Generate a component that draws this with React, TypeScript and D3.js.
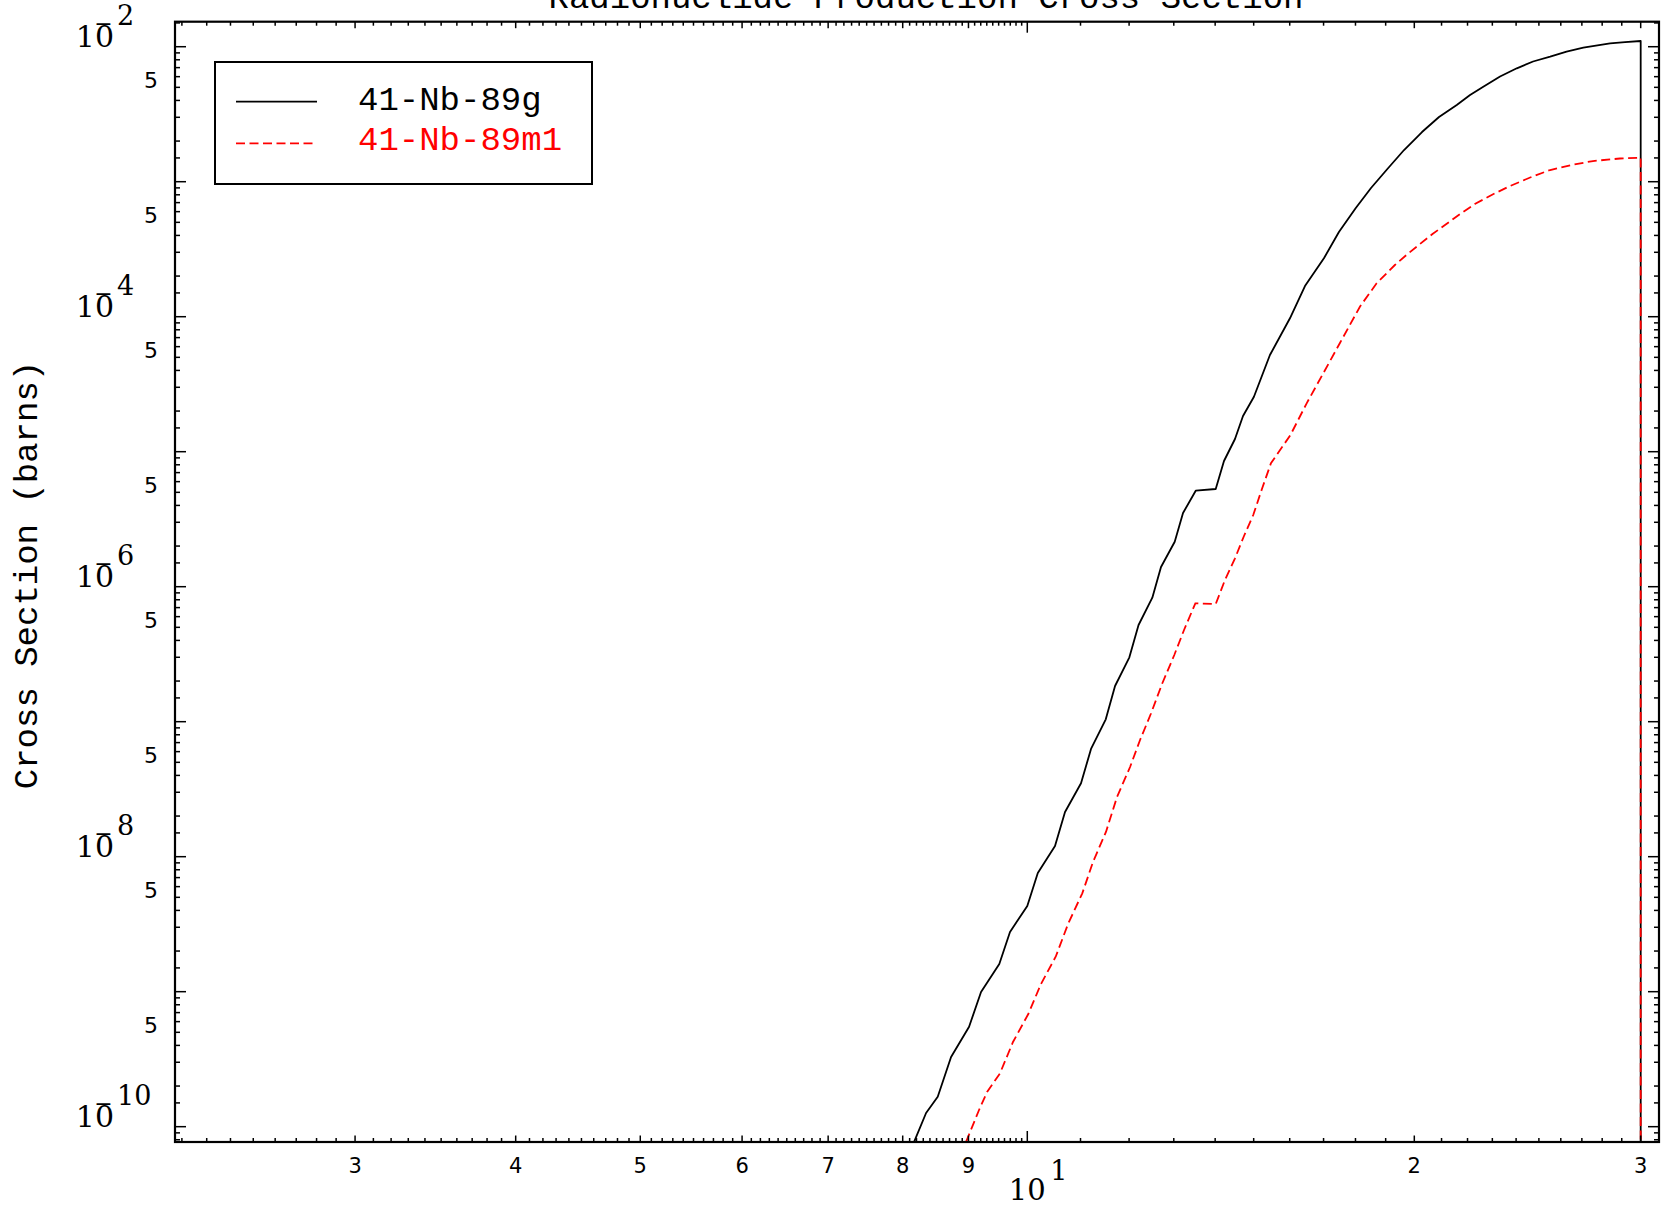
import React from 'react';
import * as d3 from 'd3';

const titleText = 'Radionuclide Production Cross Section';
const yTitle = 'Cross Section (barns)';
const seriesNames = ['41-Nb-89g', '41-Nb-89m1'];
const seriesColors = ['#000000', '#ff0000'];

// incident energy (MeV) and cross section (barns)
const nb89gEnergy = [8.165, 8.342, 8.518, 8.724, 9.01, 9.205, 9.511, 9.695, 10.0, 10.19, 10.509, 10.699, 11.01, 11.209, 11.509, 11.702, 12.006, 12.205, 12.51, 12.706, 13.022, 13.217, 13.521, 14.014, 14.223, 14.506, 14.716, 15.007, 15.443, 16.007, 16.443, 17.011, 17.474, 18.004, 18.508, 19.058, 19.636, 20.278, 20.905, 21.58, 22.1, 22.63, 23.32, 24.03, 24.74, 25.51, 26.27, 27.07, 28.4, 29.17, 30.0, 30.0];
const nb89gXS = [7.71e-11, 1.263e-10, 1.668e-10, 3.283e-10, 5.503e-10, 9.95e-10, 1.604e-9, 2.768e-9, 4.313e-9, 7.57e-9, 1.2e-8, 2.143e-8, 3.498e-8, 6.28e-8, 1.042e-7, 1.838e-7, 2.999e-7, 5.203e-7, 8.29e-7, 1.399e-6, 2.154e-6, 3.514e-6, 5.142e-6, 5.293e-6, 8.53e-6, 1.242e-5, 1.838e-5, 2.555e-5, 5.203e-5, 9.73e-5, 1.688e-4, 2.708e-4, 4.241e-4, 6.353e-4, 8.98e-4, 1.242e-3, 1.717e-3, 2.334e-3, 3.015e-3, 3.7e-3, 4.387e-3, 5.054e-3, 6.016e-3, 6.918e-3, 7.77e-3, 8.43e-3, 9.21e-3, 9.83e-3, 1.06e-2, 1.083e-2, 1.102e-2, 1e-12];

const nb89m1Energy = [8.961, 9.172, 9.305, 9.523, 9.747, 10.018, 10.248, 10.522, 10.757, 11.035, 11.249, 11.515, 11.743, 12.021, 12.238, 12.482, 12.729, 13.012, 13.241, 13.512, 14.014, 14.248, 14.506, 14.742, 14.988, 15.223, 15.471, 16.021, 16.493, 16.99, 17.506, 18.143, 18.694, 19.316, 19.76, 20.205, 20.662, 21.13, 21.71, 22.29, 23.01, 23.74, 24.61, 25.51, 26.5, 27.54, 28.91, 30.0, 30.0];
const nb89m1XS = [7.71e-11, 1.329e-10, 1.807e-10, 2.486e-10, 4.239e-10, 6.835e-10, 1.14e-9, 1.816e-9, 3.172e-9, 5.356e-9, 9.13e-9, 1.532e-8, 2.768e-8, 4.617e-8, 7.32e-8, 1.154e-7, 1.902e-7, 3.119e-7, 4.78e-7, 7.53e-7, 7.44e-7, 1.121e-6, 1.623e-6, 2.375e-6, 3.397e-6, 5.293e-6, 8.21e-6, 1.329e-5, 2.283e-5, 3.807e-5, 6.386e-5, 1.186e-4, 1.767e-4, 2.415e-4, 2.914e-4, 3.456e-4, 4.099e-4, 4.778e-4, 5.763e-4, 6.836e-4, 8.04e-4, 9.29e-4, 1.074e-3, 1.221e-3, 1.329e-3, 1.423e-3, 1.485e-3, 1.506e-3, 1e-12];

const xDomain = [2.173, 31.0];
const yDomain = [7.7e-11, 1.532e-2];

const xDigitTickValues = [3, 4, 5, 6, 7, 8, 9, 20, 30];
const xDigitTickLabels = ['3', '4', '5', '6', '7', '8', '9', '2', '3'];
const xDecadeValue = 10;
const xDecadeLabel = ['10', '1'];
const yDecadeLabelExps = [-2, -4, -6, -8, -10];
const yFiveLabelExps = [-3, -4, -5, -6, -7, -8, -9, -10];
const yMinorMantissas = [1, 1.5, 2, 3, 4, 5, 6, 7, 8, 9];

const W = 1665;
const H = 1207;
const L = 175, R = 1659, T = 21.7, B = 1142;

const MONO = '"Liberation Mono", "DejaVu Sans Mono", monospace';
const SERIF = '"DejaVu Serif", serif';
const SANS = '"DejaVu Sans", sans-serif';

export default function App() {
  const x = d3.scaleLog().domain(xDomain).range([L, R]);
  const y = d3.scaleLog().domain(yDomain).range([B, T]);

  const line = d3
    .line<[number, number]>()
    .x((d) => x(d[0]))
    .y((d) => y(d[1]));

  const gData: [number, number][] = nb89gEnergy.map((e, i) => [e, nb89gXS[i]]);
  const mData: [number, number][] = nb89m1Energy.map((e, i) => [e, nb89m1XS[i]]);

  // x ticks
  const xTicks: { v: number; len: number }[] = [];
  for (let i = 22; i < 100; i++) {
    const v = i / 10;
    const isDigit = i % 10 === 0;
    xTicks.push({ v, len: isDigit ? 6.5 : 4 });
  }
  for (let i = 10; i <= 30; i++) {
    xTicks.push({ v: i, len: i === 10 ? 11 : i === 20 || i === 30 ? 6.5 : 4 });
  }

  // y ticks
  const yTicks: { v: number; len: number }[] = [];
  for (let e = -11; e <= -2; e++) {
    for (const m of yMinorMantissas) {
      const v = m * Math.pow(10, e);
      if (v >= yDomain[0] && v <= yDomain[1]) yTicks.push({ v, len: m === 1 ? 11 : 5 });
    }
  }

  return (
    <svg
      width={W}
      height={H}
      style={{ position: 'absolute', left: 0, top: 0, background: '#fff' }}
      xmlns="http://www.w3.org/2000/svg"
    >
      <defs>
        <clipPath id="plotclip">
          <rect x={L} y={T} width={R - L} height={B - T} />
        </clipPath>
      </defs>
      <rect x={0} y={0} width={W} height={H} fill="#fff" />

      {/* title */}
      <text x={926} y={8} fontFamily={MONO} fontSize={34} textAnchor="middle" fill="#000">
        {titleText}
      </text>

      {/* curves */}
      <g clipPath="url(#plotclip)">
        <path d={line(gData) || ''} fill="none" stroke={seriesColors[0]} strokeWidth={1.8} strokeLinejoin="round" />
        <path
          d={line(mData) || ''}
          fill="none"
          stroke={seriesColors[1]}
          strokeWidth={1.8}
          strokeDasharray="9,4.5"
        />
      </g>

      {/* frame */}
      <rect x={L} y={T} width={R - L} height={B - T} fill="none" stroke="#000" strokeWidth={2.2} />

      {/* x ticks */}
      {xTicks.map((t, i) => (
        <g key={'xt' + i} stroke="#000" strokeWidth={1.5}>
          <line x1={x(t.v)} x2={x(t.v)} y1={B} y2={B - t.len} />
          <line x1={x(t.v)} x2={x(t.v)} y1={T} y2={T + t.len} />
        </g>
      ))}
      {/* y ticks */}
      {yTicks.map((t, i) => (
        <g key={'yt' + i} stroke="#000" strokeWidth={1.5}>
          <line x1={L} x2={L + t.len} y1={y(t.v)} y2={y(t.v)} />
          <line x1={R} x2={R - t.len} y1={y(t.v)} y2={y(t.v)} />
        </g>
      ))}

      {/* x labels */}
      {xDigitTickValues.map((v, i) => (
        <text key={'xl' + i} x={x(v)} y={1173} fontFamily={SANS} fontSize={21} textAnchor="middle" fill="#000">
          {xDigitTickLabels[i]}
        </text>
      ))}
      <text x={x(xDecadeValue)} y={1200} fontFamily={SERIF} fontSize={29} textAnchor="middle" fill="#000">
        {xDecadeLabel[0]}
      </text>
      <text x={x(xDecadeValue) + 23} y={1180} fontFamily={SERIF} fontSize={27} textAnchor="start" fill="#000">
        {xDecadeLabel[1]}
      </text>

      {/* y decade labels */}
      {yDecadeLabelExps.map((e) => {
        const yy = y(Math.pow(10, e));
        return (
          <g key={'yl' + e} fill="#000">
            <text x={114} y={yy} fontFamily={SERIF} fontSize={30} textAnchor="end">
              10
            </text>
            <text x={103.5} y={yy - 16} fontFamily={SANS} fontSize={22} textAnchor="middle">
              −
            </text>
            <text x={117} y={yy - 22} fontFamily={SERIF} fontSize={27} textAnchor="start">
              {String(-e)}
            </text>
          </g>
        );
      })}
      {yFiveLabelExps.map((e) => (
        <text
          key={'y5' + e}
          x={158}
          y={y(5 * Math.pow(10, e)) + 1}
          fontFamily={SANS}
          fontSize={22}
          textAnchor="end"
          fill="#000"
        >
          5
        </text>
      ))}

      {/* y title */}
      <text
        transform={`translate(37,575) rotate(-90)`}
        fontFamily={MONO}
        fontSize={34}
        textAnchor="middle"
        fill="#000"
      >
        {yTitle}
      </text>

      {/* legend */}
      <rect x={215} y={62} width={377} height={122} fill="#fff" stroke="#000" strokeWidth={2} />
      <line x1={236} x2={317} y1={101.7} y2={101.7} stroke={seriesColors[0]} strokeWidth={1.8} />
      <line
        x1={236}
        x2={317}
        y1={143.3}
        y2={143.3}
        stroke={seriesColors[1]}
        strokeWidth={1.8}
        strokeDasharray="9,4.5"
      />
      <text x={358} y={110} fontFamily={MONO} fontSize={34} fill={seriesColors[0]}>
        {seriesNames[0]}
      </text>
      <text x={358} y={150} fontFamily={MONO} fontSize={34} fill={seriesColors[1]}>
        {seriesNames[1]}
      </text>
    </svg>
  );
}
